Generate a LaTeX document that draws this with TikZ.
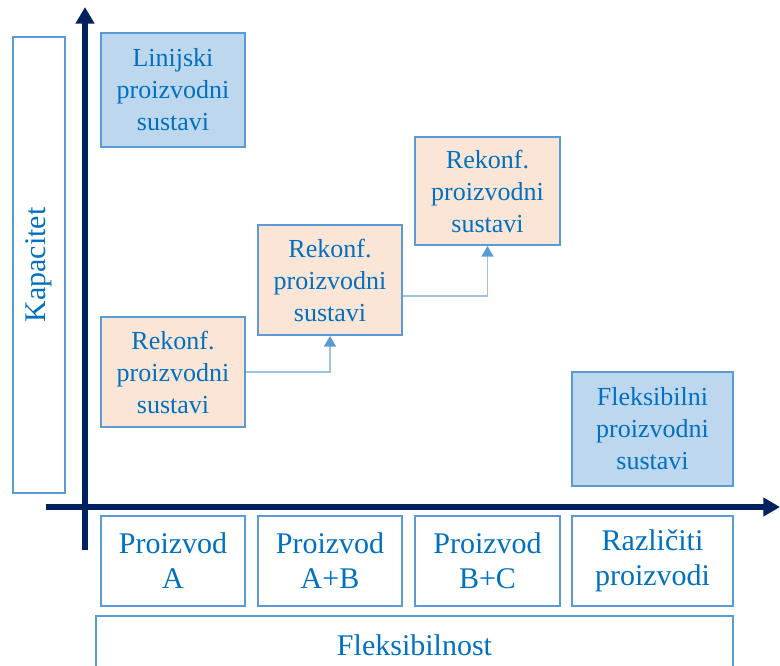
\documentclass[tikz,border=0pt]{standalone}
\usepackage{fontspec}
\setmainfont{Liberation Serif}
\usepackage{tikz}
\usetikzlibrary{arrows.meta,calc}

\definecolor{txtblue}{HTML}{0070C0}
\definecolor{edgeblue}{HTML}{5B9BD5}
\definecolor{linkblue}{HTML}{9DC3E6}
\definecolor{fillblue}{HTML}{BDD7EE}
\definecolor{fillpeach}{HTML}{FBE5D6}
\definecolor{axisnavy}{HTML}{002060}

\begin{document}
\begin{tikzpicture}[x=0.75pt, y=-0.75pt]
    \tikzstyle{label box}=[
        draw = edgeblue,
        line width = 1.4pt,
        fill = white,
        text = txtblue,
        align = center,
        inner sep = 0pt,
        font = \fontsize{22.5}{26.25}\selectfont
    ]
    \tikzstyle{blue box}=[
        label box,
        fill = fillblue,
        minimum height = 85.5pt,
        font = \fontsize{19.5}{24}\selectfont
    ]
    \tikzstyle{peach box}=[
        label box,
        fill = fillpeach,
        minimum width = 108pt,
        minimum height = 82.5pt,
        font = \fontsize{19.5}{24}\selectfont
    ]
    \tikzstyle{axis}=[
        draw = axisnavy,
        line width = 4pt,
        -{Triangle[width=13.5pt, length=12.5pt]}
    ]
    \tikzstyle{link}=[
        draw = linkblue,
        line width = 1pt,
        -{Triangle[width=9pt, length=8pt, color=edgeblue]}
    ]

    \clip (0,0) rectangle (780,665);

    % axes
    \coordinate (ybot) at (85,550);
    \coordinate (ytop) at (85,7);
    \coordinate (xleft) at (46,507);
    \coordinate (xright) at (780,507);
    \draw[axis] (ybot) -- (ytop);
    \draw[axis] (xleft) -- (xright);

    \node[label box, rotate=90, minimum width=342pt, minimum height=39pt] (kap) at (39,265) {Kapacitet};

    \node[blue box, minimum width=108pt]    (lin)  at (173,90)    {Linijski\\proizvodni\\sustavi};
    \node[peach box]                        (rek1) at (173,372)   {Rekonf.\\proizvodni\\sustavi};
    \node[peach box]                        (rek2) at (330,280)   {Rekonf.\\proizvodni\\sustavi};
    \node[peach box, minimum width=108.75pt, minimum height=81pt] (rek3) at (487.5,191) {Rekonf.\\proizvodni\\sustavi};
    \node[blue box, minimum width=120.75pt] (flx)  at (652.5,429) {Fleksibilni\\proizvodni\\sustavi};

    \node[label box, minimum width=108pt, minimum height=67.5pt]     (pa)  at (173,561)   {Proizvod\\A};
    \node[label box, minimum width=108pt, minimum height=67.5pt]     (pab) at (330,561)   {Proizvod\\A+B};
    \node[label box, minimum width=108.75pt, minimum height=67.5pt]  (pbc) at (487.5,561) {Proizvod\\B+C};
    \node[label box, minimum width=120.75pt, minimum height=67.5pt]  (raz) at (652.5,561) {Različiti\\proizvodi};

    \node[label box, minimum width=477.75pt, minimum height=43.5pt] (fleks) at (414.5,645) {Fleksibilnost};

    \path[link] (rek1.east) -| (rek2.south);
    \path[link] ($(rek2.east)+(0,16)$) -| (rek3.south);

\end{tikzpicture}
\end{document}
